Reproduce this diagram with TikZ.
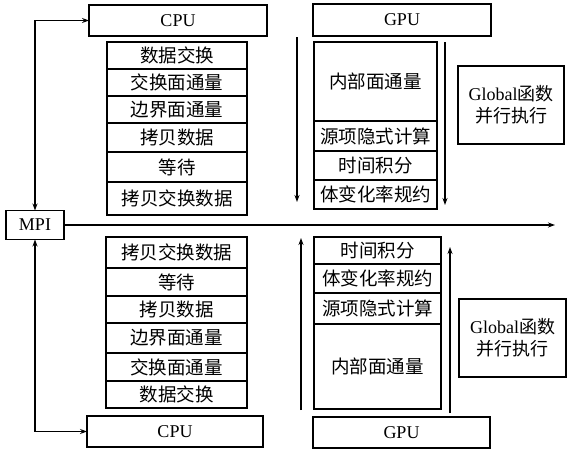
\documentclass[tikz,border=0pt]{standalone}
\usepackage{fontspec}
\setmainfont{Liberation Serif}
\newfontfamily\cjk{Noto Sans CJK SC}
\usetikzlibrary{arrows.meta}
\tikzset{
  cell/.style={draw, line width=1.1pt, rectangle, inner sep=0pt, outer sep=0pt,
    font=\cjk\fontsize{18.5}{20}\selectfont},
  lbox/.style={draw, line width=1.1pt, rectangle, inner sep=0pt, outer sep=0pt,
    font=\fontsize{18}{20}\selectfont},
  gbox/.style={draw, line width=1.1pt, rectangle, inner sep=0pt, outer sep=0pt,
    align=center, font=\fontsize{18}{22}\selectfont},
  conn/.style={line width=1.1pt, -{Stealth[length=7pt,width=5pt]}},
  conn2/.style={line width=1.1pt, {Stealth[length=7pt,width=5pt]}-{Stealth[length=7pt,width=5pt]}}
}
\newcommand\mkcell[6]{\node[cell, minimum width={#3-#2}, minimum height={#5-#4}] (#1) at ({(#2+#3)/2},{(#4+#5)/2}) {#6};}
\begin{document}
\begin{tikzpicture}[x=1pt,y=-1pt]
\useasboundingbox[fill=white] (0,0) rectangle (570,458);
% MPI
\node[lbox, minimum width=58, minimum height=29] (mpi) at (35,225) {MPI};
\coordinate (axend) at (555,225);
\draw[conn] (mpi.east) -- (axend);
% top CPU
\node[lbox, minimum width=178, minimum height=31] (cputop) at (178,20.5) {CPU};
\mkcell{ct1}{107}{247}{42}{69}{数据交换}
\mkcell{ct2}{107}{247}{69}{96}{交换面通量}
\mkcell{ct3}{107}{247}{96}{123}{边界面通量}
\mkcell{ct4}{107}{247}{123}{152}{拷贝数据}
\mkcell{ct5}{107}{247}{152}{182}{等待}
\mkcell{ct6}{107}{247}{182}{215}{拷贝交换数据}
\draw[conn2] (mpi.north) |- (cputop.west);
% bottom CPU
\node[lbox, minimum width=176, minimum height=31] (cpubot) at (175,431.5) {CPU};
\mkcell{cb1}{106}{247}{237}{268}{拷贝交换数据}
\mkcell{cb2}{106}{247}{268}{296}{等待}
\mkcell{cb3}{106}{247}{296}{323}{拷贝数据}
\mkcell{cb4}{106}{247}{323}{353}{边界面通量}
\mkcell{cb5}{106}{247}{353}{381}{交换面通量}
\mkcell{cb6}{106}{247}{381}{408}{数据交换}
\draw[conn2] (mpi.south) |- (cpubot.west);
% top GPU
\node[lbox, minimum width=178, minimum height=32] (gputop) at (402,20) {GPU};
\mkcell{gt1}{314}{437}{42}{121}{\raisebox{-5pt}{内部面通量}}
\mkcell{gt2}{314}{437}{121}{151}{源项隐式计算}
\mkcell{gt3}{314}{437}{151}{180}{时间积分}
\mkcell{gt4}{314}{437}{180}{209}{体变化率规约}
\node[gbox, minimum width=106, minimum height=78] (globtop) at (511,105) {Global{\cjk 函数}\\{\cjk 并行执行}};
\coordinate (dla) at (297,37);
\coordinate (dlb) at (297,202);
\coordinate (dra) at (445,42);
\coordinate (drb) at (445,205);
\draw[conn] (dla) -- (dlb);
\draw[conn] (dra) -- (drb);
% bottom GPU
\node[lbox, minimum width=177, minimum height=31] (gpubot) at (401.5,432.5) {GPU};
\mkcell{gb1}{314}{441}{237}{264}{时间积分}
\mkcell{gb2}{314}{441}{264}{293}{体变化率规约}
\mkcell{gb3}{314}{441}{293}{324}{源项隐式计算}
\mkcell{gb4}{314}{441}{324}{409}{内部面通量}
\node[gbox, minimum width=107, minimum height=78] (globbot) at (512.5,338) {Global{\cjk 函数}\\{\cjk 并行执行}};
\coordinate (ula) at (301,410);
\coordinate (ulb) at (301,238);
\coordinate (ura) at (450,413);
\coordinate (urb) at (450,247);
\draw[conn] (ula) -- (ulb);
\draw[conn] (ura) -- (urb);
\end{tikzpicture}
\end{document}
